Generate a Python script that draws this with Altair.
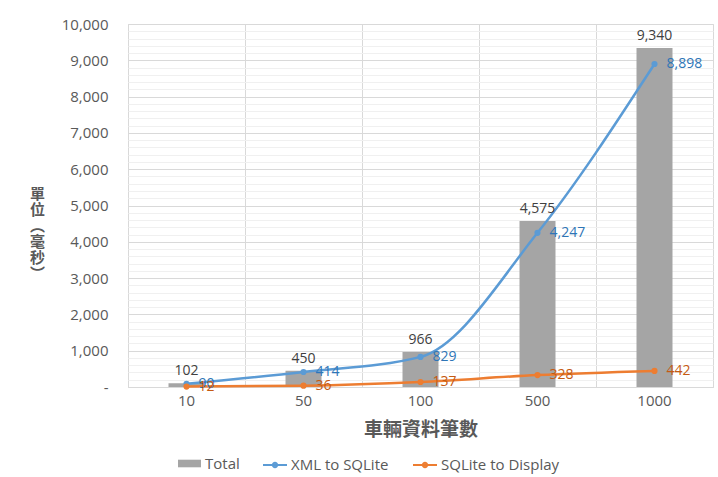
import altair as alt
import pandas as pd

categories = ["10", "50", "100", "500", "1000"]
total = [102, 450, 966, 4575, 9340]
xml_to_sqlite = [90, 414, 829, 4247, 8898]
sqlite_to_display = [12, 36, 137, 328, 442]

S_TOTAL = "Total"
S_XML = "XML to SQLite"
S_DISP = "SQLite to Display"

bar_df = pd.DataFrame({"cat": categories, "value": total, "series": S_TOTAL})
line_df = pd.concat([
    pd.DataFrame({"cat": categories, "value": xml_to_sqlite, "series": S_XML}),
    pd.DataFrame({"cat": categories, "value": sqlite_to_display, "series": S_DISP}),
], ignore_index=True)

FONT = "Open Sans"
CJK = "Noto Sans CJK TC"
TXT = "#595959"
GRID = "#D9D9D9"
MINOR = "#F0F0F0"

major_vals = list(range(0, 10001, 1000))
minor_vals = [v for v in range(200, 10001, 200) if v % 1000]

yscale = alt.Scale(domain=[0, 10000], nice=False)
xsort = categories

x_main = alt.X(
    "cat:N", sort=xsort,
    scale=alt.Scale(paddingInner=0, paddingOuter=0),
    axis=alt.Axis(
        title="車輛資料筆數", labelAngle=0, grid=True, bandPosition=0,
        gridColor=GRID, ticks=False, domainColor=GRID,
        labelFont=FONT, labelFontSize=15, labelColor=TXT, labelPadding=6,
        titleFont=CJK, titleFontSize=19, titleFontWeight="bold",
        titleColor=TXT, titlePadding=12,
    ),
)
x_plain = alt.X("cat:N", sort=xsort)

bars = alt.Chart(bar_df).mark_bar(size=36).encode(
    x=x_main,
    y=alt.Y(
        "value:Q", scale=yscale,
        axis=alt.Axis(
            values=major_vals,
            labelExpr="datum.value == 0 ? '-\u00a0\u00a0' : format(datum.value, ',')",
            grid=True, gridColor=GRID, ticks=False, domain=False,
            labelPadding=20, labelFont=FONT, labelFontSize=15, labelColor=TXT,
            title=["單", "位", "︵", "毫", "秒", "︶"],
            titleAngle=0, titleX=-91, titleY=162, titleBaseline="top",
            titleAlign="center", titleLineHeight=16, titleFont=CJK,
            titleFontSize=15, titleFontWeight="bold", titleColor=TXT,
        ),
    ),
    fill=alt.Fill(
        "series:N",
        scale=alt.Scale(domain=[S_TOTAL], range=["#A5A5A5"]),
        legend=alt.Legend(
            orient="none", legendX=50, legendY=428, title=None,
            symbolType="M-1,-0.33H1V0.33H-1Z", symbolSize=529,
            symbolStrokeWidth=0, labelOffset=4, padding=0,
            labelFont=FONT, labelFontSize=15, labelColor=TXT,
        ),
    ),
)

stroke_enc = alt.Stroke(
    "series:N",
    scale=alt.Scale(domain=[S_XML, S_DISP], range=["#5B9BD5", "#ED7D31"]),
    legend=alt.Legend(
        orient="none", legendX=134, legendY=428, title=None,
        direction="horizontal", columnPadding=20,
        symbolType="M-1,0H1M-0.18,0A0.18,0.18 0 1,0 0.18,0A0.18,0.18 0 1,0 -0.18,0",
        symbolSize=576, symbolStrokeWidth=2, labelOffset=3, padding=0,
        labelFont=FONT, labelFontSize=15, labelColor=TXT,
    ),
)

lines = alt.Chart(line_df).mark_line(strokeWidth=2.5, interpolate="monotone").encode(
    x=x_plain,
    y=alt.Y(
        "value:Q", scale=yscale,
        axis=alt.Axis(
            values=minor_vals, grid=True, gridColor=MINOR, labels=False,
            ticks=False, domain=False, title=None,
        ),
    ),
    stroke=stroke_enc,
    detail="series:N",
)

points = alt.Chart(line_df).mark_point(size=10, strokeWidth=3, filled=False, opacity=1).encode(
    x=x_plain,
    y=alt.Y("value:Q", scale=yscale, axis=None),
    stroke=stroke_enc,
)

total_labels = alt.Chart(bar_df).mark_text(
    dy=-12, baseline="middle", align="center", font=FONT, fontSize=14, color="#404040"
).encode(
    x=x_plain,
    y=alt.Y("value:Q", scale=yscale, axis=None),
    text=alt.Text("value:Q", format=","),
)

xml_labels = alt.Chart(line_df).transform_filter(
    alt.datum.series == S_XML
).mark_text(
    dx=12, baseline="middle", align="left", font=FONT, fontSize=14, color="#2E75B6"
).encode(
    x=x_plain,
    y=alt.Y("value:Q", scale=yscale, axis=None),
    text=alt.Text("value:Q", format=","),
)

disp_labels = alt.Chart(line_df).transform_filter(
    alt.datum.series == S_DISP
).mark_text(
    dx=12, baseline="middle", align="left", font=FONT, fontSize=14, color="#C55A11"
).encode(
    x=x_plain,
    y=alt.Y("value:Q", scale=yscale, axis=None),
    text=alt.Text("value:Q", format=","),
)

chart = alt.layer(
    bars, lines, points, total_labels, xml_labels, disp_labels
).resolve_scale(
    y="shared"
).resolve_axis(
    y="independent"
).properties(
    width=585, height=363,
    autosize=alt.AutoSizeParams(type="none"),
    padding={"left": 128, "top": 24, "right": 5, "bottom": 90},
    background="white",
).configure_view(
    stroke=GRID
)

chart.save("out.html", embed_options={"renderer": "svg", "actions": False})
